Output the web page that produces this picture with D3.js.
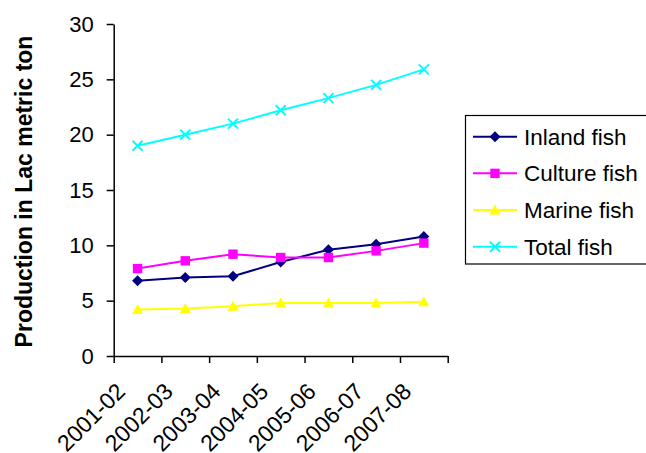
<!DOCTYPE html>
<html>
<head>
<meta charset="utf-8">
<script src="https://cdn.jsdelivr.net/npm/d3@7/dist/d3.min.js"></script>
<style>
  html, body { margin: 0; padding: 0; background: #fff; }
  svg { display: block; font-family: Arial, "Liberation Sans", sans-serif; }
</style>
</head>
<body>
<svg id="chart" width="646" height="453"></svg>
<script>
// Fish production by year (lakh metric tonnes)
const years = ["2001-02", "2002-03", "2003-04", "2004-05", "2005-06", "2006-07", "2007-08"];
const inlandFish  = [6.8, 7.1, 7.2, 8.5, 9.6, 10.1, 10.8];
const cultureFish = [7.9, 8.6, 9.2, 8.9, 8.9, 9.5, 10.2];
const marineFish  = [4.2, 4.3, 4.5, 4.8, 4.8, 4.8, 4.9];
const totalFish   = [19.0, 20.0, 21.0, 22.2, 23.3, 24.5, 25.9];
const yTicks = [0, 5, 10, 15, 20, 25, 30];

const series = [
  { name: "Inland fish",  values: inlandFish,  color: "#000080", marker: "diamond" },
  { name: "Culture fish", values: cultureFish, color: "#FF00FF", marker: "square" },
  { name: "Marine fish",  values: marineFish,  color: "#FFFF00", marker: "triangle" },
  { name: "Total fish",   values: totalFish,   color: "#00FFFF", marker: "cross" }
];

const svg = d3.select("#chart");
const plot = { left: 113.7, right: 447.7, top: 24, bottom: 356 };

const x = d3.scaleBand().domain(years).range([plot.left, plot.right]).padding(0);
const xEdges = d3.scaleLinear().domain([0, years.length]).range([plot.left, plot.right]);
const y = d3.scaleLinear().domain([0, 30]).range([plot.bottom, plot.top]);
const cx = d => x(d) + x.bandwidth() / 2;

// Y axis
const yAxis = svg.append("g")
  .attr("transform", `translate(${plot.left},0)`)
  .call(d3.axisLeft(y).tickValues(yTicks).tickSize(7).tickPadding(13).tickSizeOuter(0));
yAxis.select(".domain").attr("stroke", "#000").attr("stroke-width", 1.5);
yAxis.selectAll(".tick line").attr("stroke", "#000").attr("stroke-width", 1.5);
yAxis.selectAll(".tick text").attr("font-size", 22).attr("fill", "#000")
  .attr("font-family", "Arial, 'Liberation Sans', sans-serif");

// X axis: tick marks sit between categories
const xAxis = svg.append("g")
  .attr("transform", `translate(0,${plot.bottom})`)
  .call(d3.axisBottom(xEdges).tickValues(d3.range(years.length + 1)).tickSize(7).tickFormat("").tickSizeOuter(0));
xAxis.select(".domain").attr("stroke", "#000").attr("stroke-width", 1.5);
xAxis.selectAll(".tick line").attr("stroke", "#000").attr("stroke-width", 1.5);

// Rotated category labels
svg.append("g").selectAll("text")
  .data(years)
  .join("text")
  .attr("transform", d => `translate(${cx(d) - 11},393) rotate(-45)`)
  .attr("text-anchor", "end")
  .attr("font-size", 23)
  .attr("fill", "#000")
  .text(d => d);

// Y axis title
svg.append("text")
  .attr("transform", "translate(32,191.5) rotate(-90)")
  .attr("text-anchor", "middle")
  .attr("font-size", 23)
  .attr("font-weight", "bold")
  .attr("fill", "#000")
  .text("Production in Lac metric ton");

// Marker shapes
function drawMarker(sel, type, color) {
  if (type === "diamond") {
    sel.append("path").attr("d", "M0,-5.5L5.5,0L0,5.5L-5.5,0Z").attr("fill", color);
  } else if (type === "square") {
    sel.append("rect").attr("x", -4.7).attr("y", -4.7).attr("width", 9.4).attr("height", 9.4).attr("fill", color);
  } else if (type === "triangle") {
    sel.append("path").attr("d", "M0,-5.5L5.5,4.5L-5.5,4.5Z").attr("fill", color);
  } else if (type === "cross") {
    sel.append("path").attr("d", "M-5,-5L5,5M-5,5L5,-5").attr("stroke", color).attr("stroke-width", 2).attr("fill", "none");
  }
}

const line = d3.line().x((v, i) => cx(years[i])).y(v => y(v));

series.forEach(s => {
  svg.append("path")
    .datum(s.values)
    .attr("d", line)
    .attr("fill", "none")
    .attr("stroke", s.color)
    .attr("stroke-width", 2);
  svg.append("g").selectAll("g")
    .data(s.values)
    .join("g")
    .attr("transform", (v, i) => `translate(${cx(years[i])},${y(v)})`)
    .each(function () { drawMarker(d3.select(this), s.marker, s.color); });
});

// Legend
const legend = svg.append("g");
legend.append("rect")
  .attr("x", 465.5).attr("y", 115.5).attr("width", 190).attr("height", 148.5)
  .attr("fill", "#fff").attr("stroke", "#000").attr("stroke-width", 1.2);
const ly = d3.scalePoint().domain(series.map(s => s.name)).range([136.7, 246.7]);
series.forEach(s => {
  const g = legend.append("g").attr("transform", `translate(0,${ly(s.name)})`);
  g.append("line").attr("x1", 473).attr("x2", 517).attr("stroke", s.color).attr("stroke-width", 2);
  const m = g.append("g").attr("transform", "translate(495,0)");
  drawMarker(m, s.marker, s.color);
  g.append("text").attr("x", 524).attr("dy", "0.35em").attr("font-size", 22.5).attr("fill", "#000").text(s.name);
});
</script>
</body>
</html>
